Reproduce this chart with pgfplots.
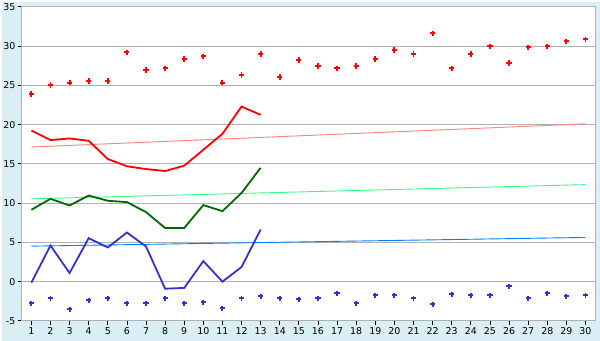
\documentclass[border=0pt]{standalone}
\usepackage{pgfplots}
\pgfplotsset{compat=1.18}
\usepackage{fontspec}
\setmainfont{DejaVu Sans}
\definecolor{bgblue}{HTML}{D9EEF5}
\definecolor{gridgray}{HTML}{B0B0B0}
\definecolor{maxred}{HTML}{FF0000}
\definecolor{avggreen}{HTML}{006600}
\definecolor{minblue}{HTML}{3333CC}
\definecolor{trred}{HTML}{FF8080}
\definecolor{trgreen}{HTML}{33FF88}
\definecolor{trblue}{HTML}{0080FF}
\begin{document}
\begin{tikzpicture}
\fill[bgblue] (-20bp,-20bp) rectangle (580bp,320bp);
\begin{axis}[
  scale only axis,
  width=575bp, height=315bp,
  xmin=0.5, xmax=30.5,
  ymin=-5, ymax=35,
  xtick={1,...,30},
  ytick={-5,0,...,35},
  axis background/.style={fill=white},
  axis line style={gridgray, line width=1bp},
  ymajorgrids,
  major grid style={gridgray, line width=0.9bp},
  tick pos=left,
  tick align=outside,
  major tick length=4bp,
  tick style={black, line width=0.8bp},
  /pgf/number format/assume math mode=true,
  ticklabel style={font=\fontsize{9.5}{11}\selectfont},
  xticklabel style={yshift=1bp},
  yticklabel style={xshift=1bp},
  clip=false,
]
% trend lines
\addplot[trred, line width=0.9bp] coordinates {(1,17.15) (30,20.1)};
\addplot[trgreen, line width=0.9bp] coordinates {(1,10.55) (30,12.36)};
\addplot[trblue, line width=0.9bp] coordinates {(1,4.52) (30,5.63)};
% max markers
\addplot[only marks, mark=+, mark size=2.6bp, mark options={line width=1.9bp}, color=maxred] coordinates {
(1,23.9) (2,25.05) (3,25.35) (4,25.56) (5,25.56) (6,29.24) (7,26.96) (8,27.2)
(9,28.35) (10,28.73) (11,25.35) (12,26.32) (13,29.0) (14,26.07) (15,28.23)
(16,27.46) (17,27.2) (18,27.46) (19,28.35) (20,29.5) (21,29.0) (22,31.66)
(23,27.2) (24,29.0) (25,30.0) (26,27.84) (27,29.87) (28,30.0) (29,30.64) (30,30.89)};
% min markers
\addplot[only marks, mark=+, mark size=2.6bp, mark options={line width=1.9bp}, color=minblue] coordinates {
(1,-2.76) (2,-2.12) (3,-3.52) (4,-2.37) (5,-2.12) (6,-2.76) (7,-2.76) (8,-2.12)
(9,-2.76) (10,-2.63) (11,-3.39) (12,-2.12) (13,-1.87) (14,-2.12) (15,-2.25)
(16,-2.12) (17,-1.48) (18,-2.76) (19,-1.74) (20,-1.74) (21,-2.12) (22,-2.88)
(23,-1.61) (24,-1.74) (25,-1.74) (26,-0.6) (27,-2.12) (28,-1.48) (29,-1.87) (30,-1.74)};
% lines
\addplot[maxred, line width=1.8bp] coordinates {
(1,19.25) (2,18.03) (3,18.24) (4,17.94) (5,15.62) (6,14.7) (7,14.34) (8,14.09)
(9,14.77) (10,16.8) (11,18.83) (12,22.3) (13,21.24)};
\addplot[avggreen, line width=1.8bp] coordinates {
(1,9.15) (2,10.55) (3,9.7) (4,10.97) (5,10.3) (6,10.13) (7,8.86) (8,6.83)
(9,6.83) (10,9.75) (11,8.98) (12,11.3) (13,14.5)};
\addplot[minblue, line width=1.8bp] coordinates {
(1,-0.13) (2,4.6) (3,1.1) (4,5.54) (5,4.35) (6,6.26) (7,4.48) (8,-0.9)
(9,-0.8) (10,2.62) (11,0.0) (12,1.86) (13,6.64)};
\end{axis}
\end{tikzpicture}
\end{document}
